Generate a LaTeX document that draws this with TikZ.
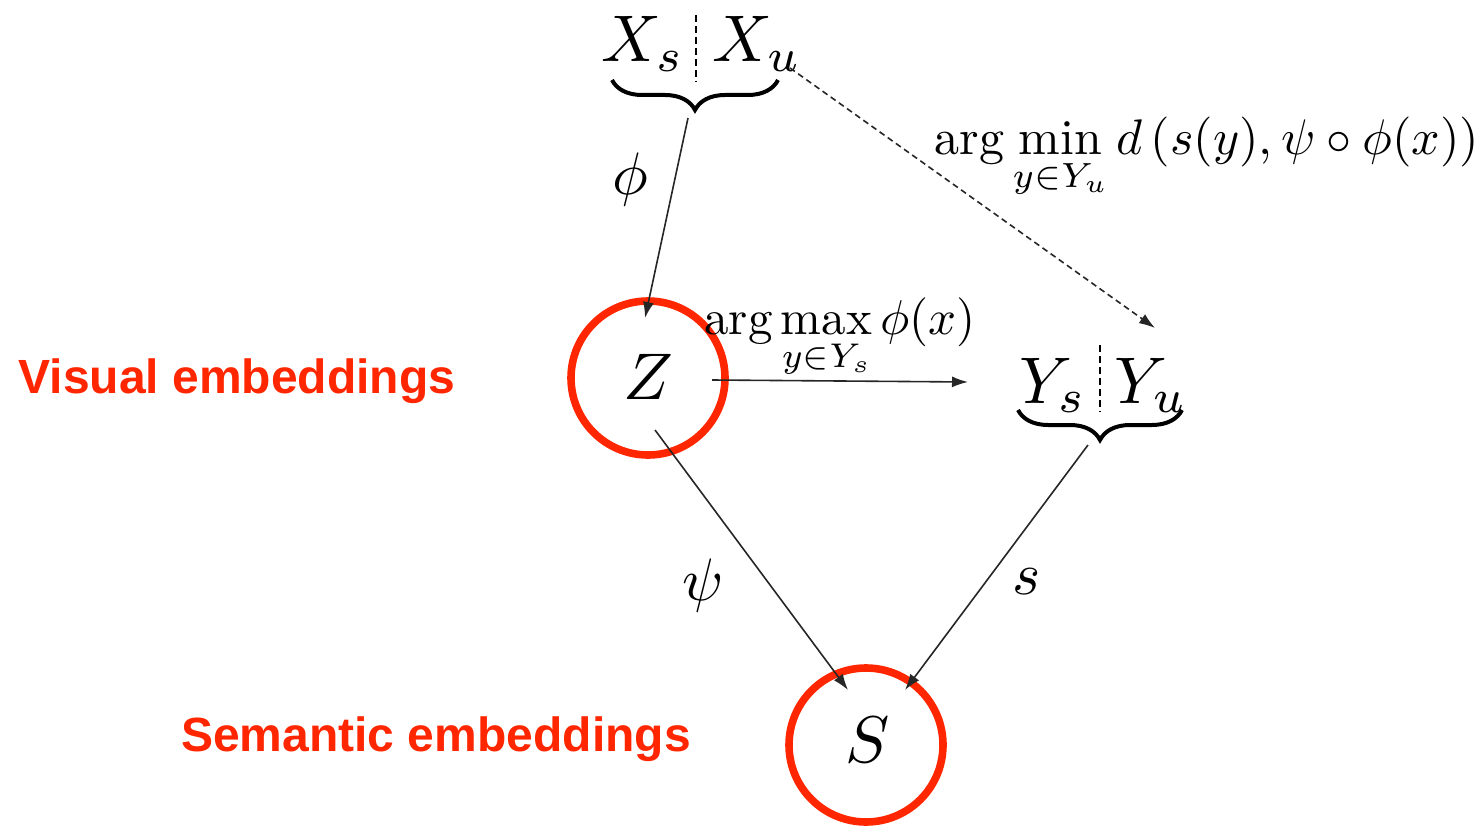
\documentclass[tikz,border=0pt]{standalone}
\usepackage{amsmath}
\usepackage{graphicx}
\usepackage{fontspec}
\setsansfont{Liberation Sans}
\usetikzlibrary{arrows.meta,decorations.pathreplacing}
\definecolor{embred}{RGB}{255,38,0}
\newcommand{\sbmath}[2]{\scalebox{#1}{$#2$}}
\begin{document}
\begin{tikzpicture}[x=0.5pt,y=-0.5pt,
  mth/.style={inner sep=0pt},
  embcircle/.style={circle,draw=embred,line width=3.8pt,minimum size=77pt,inner sep=0pt},
  emblabel/.style={font=\sffamily\bfseries\fontsize{24}{29}\selectfont,text=embred,inner sep=0pt},
  conn/.style={line width=0.8pt,draw=black!85,-{Latex[length=8pt,width=5.5pt]}},
  sep/.style={line width=0.6pt,dash pattern=on 3.5pt off 2pt},
  grpbrace/.style={decorate,decoration={brace,mirror,amplitude=15pt},line width=2pt}]
\useasboundingbox (0,0) rectangle (1482,828);
% top group
\node[mth,anchor=base] (Xs) at (643,62) {\sbmath{3.3}{X_s}};
\node[mth,anchor=base] (Xu) at (757,62) {\sbmath{3.3}{X_u}};
\draw[sep] (696,15) -- (696,82);
\draw[grpbrace] (612,80) -- (778,80);
\coordinate (Xtip) at (688,118);
\coordinate (Xout) at (790,68);
% Z
\node[embcircle] (Zc) at (648,378) {};
\node[mth] (Z) at (648,377) {\sbmath{3.3}{Z}};
\coordinate (Zin) at (645,318);
\coordinate (Zout) at (712,380);
\coordinate (Zlow) at (655,430);
% Y group
\node[mth,anchor=base] (Ys) at (1053,403) {\sbmath{3.3}{Y_s}};
\node[mth,anchor=base] (Yu) at (1151,403) {\sbmath{3.3}{Y_u}};
\draw[sep] (1100,345) -- (1100,412);
\draw[grpbrace] (1018,410) -- (1182,410);
\coordinate (Yin) at (968,382);
\coordinate (Ytop) at (1155,328);
\coordinate (Ytip) at (1088,445);
% S
\node[embcircle] (Sc) at (866,745) {};
\node[mth] (S) at (868,740) {\sbmath{3.3}{S}};
\coordinate (Sin1) at (848,690);
\coordinate (Sin2) at (905,690);
% connectors
\draw[conn] (Xtip) -- (Zin);
\draw[conn] (Zout) -- (Yin);
\draw[conn,dash pattern=on 3pt off 2pt] (Xout) -- (Ytop);
\draw[conn] (Zlow) -- (Sin1);
\draw[conn] (Ytip) -- (Sin2);
% labels
\node[mth] (phi) at (630,180) {\sbmath{3.0}{\phi}};
\node[mth] (psi) at (703,585) {\sbmath{3.0}{\psi}};
\node[mth] (slab) at (1027,582) {\sbmath{3.0}{s}};
\node[mth,anchor=base] (amax) at (840,335) {\sbmath{2.45}{\arg\max\limits_{y\in Y_s}\phi(x)}};
\node[mth,anchor=base] (amin) at (1207,155) {\sbmath{2.5}{\arg\min\limits_{y\in Y_u} d\,(s(y),\psi\circ\phi(x))}};
\node[emblabel] (vis) at (237,381) {Visual embeddings};
\node[emblabel] (sem) at (436,739) {Semantic embeddings};
\end{tikzpicture}
\end{document}
